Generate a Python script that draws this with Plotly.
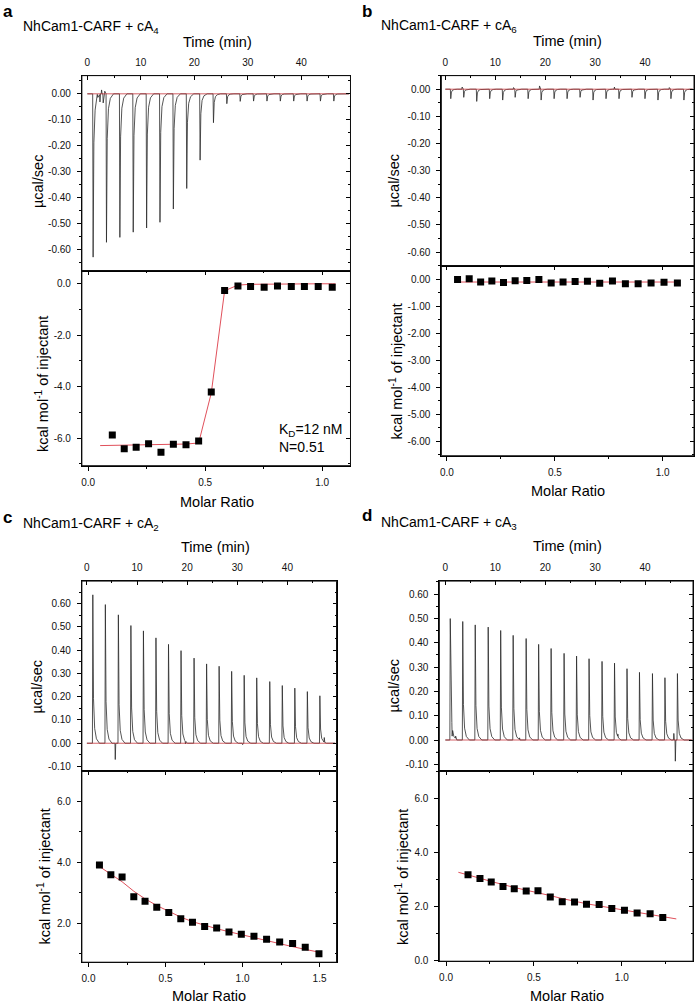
import numpy as np
import plotly.graph_objects as go

W, H = 697, 1008
FONT = "Liberation Sans, Arial, sans-serif"
INK = "#2a2a2a"
RED_BASE = "#c8383f"
RED_FIT = "#e0505b"

# ---------------- Panel a : NhCam1-CARF + cA4 ----------------
a_inj_time = [1.0, 3.5, 6.0, 8.5, 11.0, 13.5, 16.0, 18.5, 21.0, 23.5, 26.0, 28.5, 31.0, 33.5, 36.0, 38.5, 41.0, 43.5, 46.0]
a_inj_peak = [-0.628, -0.571, -0.552, -0.532, -0.516, -0.494, -0.443, -0.364, -0.255, -0.111, -0.038, -0.029,
              -0.028, -0.028, -0.028, -0.028, -0.028, -0.028, -0.028]
a_blip_time = [1.8, 2.3, 2.6, 2.9, 3.2]
a_blip_val = [0.015, -0.030, 0.015, -0.035, 0.010]
a_base_span = [0.0, 48.9]
a_ratio = [0.103, 0.154, 0.205, 0.258, 0.311, 0.364, 0.418, 0.472, 0.526, 0.583, 0.640, 0.694, 0.752, 0.809,
           0.868, 0.924, 0.983, 1.043]
a_heat = [-5.88, -6.41, -6.35, -6.22, -6.55, -6.24, -6.26, -6.11, -4.21, -0.27, -0.10, -0.12, -0.14, -0.10,
          -0.12, -0.12, -0.12, -0.14]
a_fit_ratio = [0.051, 0.103, 0.154, 0.205, 0.258, 0.311, 0.364, 0.418, 0.472, 0.526, 0.583, 0.640, 0.694,
               0.752, 0.809, 0.868, 0.924, 0.983, 1.043, 1.057]
a_fit_heat = [-6.29, -6.28, -6.28, -6.27, -6.27, -6.26, -6.25, -6.23, -6.19, -4.25, -0.28, -0.06, -0.03,
              -0.02, -0.02, -0.01, -0.01, -0.01, -0.01, -0.01]

# ---------------- Panel b : NhCam1-CARF + cA6 ----------------
b_inj_time = [1.0, 3.6, 6.2, 8.8, 11.4, 13.9, 16.5, 19.1, 21.7, 24.3, 26.9, 29.5, 32.1, 34.7, 37.3, 39.9, 42.5, 45.1, 47.7]
b_inj_peak = [-0.035, -0.030, -0.045, -0.035, -0.040, -0.030, -0.035, -0.040, -0.035, -0.035, -0.030, -0.040,
              -0.035, -0.035, -0.030, -0.035, -0.040, -0.035, -0.040]
b_blip_time = [3.3, 13.6, 18.8, 33.8, 44.8]
b_blip_val = [0.008, 0.006, 0.012, 0.008, 0.006]
b_base_span = [0.0, 49.6]
b_ratio = [0.049, 0.103, 0.156, 0.208, 0.262, 0.316, 0.370, 0.426, 0.483, 0.538, 0.594, 0.651, 0.708, 0.767,
           0.827, 0.886, 0.946, 1.006, 1.068]
b_heat = [-0.01, 0.02, -0.10, -0.06, -0.12, -0.05, -0.04, -0.01, -0.14, -0.10, -0.08, -0.07, -0.15, -0.06,
          -0.16, -0.16, -0.14, -0.11, -0.14]
b_fit_ratio = [0.049, 1.068]
b_fit_heat = [-0.10, -0.10]

# ---------------- Panel c : NhCam1-CARF + cA2 ----------------
c_inj_time = [1.1, 3.6, 6.2, 8.7, 11.2, 13.7, 16.2, 18.7, 21.3, 23.8, 26.3, 28.8, 31.3, 33.8, 36.4, 38.9, 41.4, 43.9, 46.4]
c_inj_peak = [0.638, 0.596, 0.552, 0.506, 0.483, 0.453, 0.425, 0.398, 0.366, 0.341, 0.331, 0.309, 0.292, 0.281,
              0.265, 0.248, 0.237, 0.222, 0.204]
c_blip_time = [5.6, 19.6, 31.0, 47.3]
c_blip_val = [-0.070, -0.012, -0.006, 0.020]
c_base_span = [0.0, 49.6]
c_ratio = [0.071, 0.145, 0.218, 0.294, 0.367, 0.443, 0.521, 0.599, 0.675, 0.754, 0.832, 0.912, 0.992, 1.074,
           1.156, 1.241, 1.325, 1.407, 1.496]
c_heat = [3.91, 3.59, 3.52, 2.87, 2.72, 2.52, 2.35, 2.15, 2.03, 1.89, 1.84, 1.71, 1.64, 1.57, 1.47, 1.38,
          1.33, 1.21, 1.00]
c_fit_ratio = c_ratio
c_fit_heat = [3.86, 3.62, 3.36, 3.05, 2.80, 2.58, 2.38, 2.20, 2.05, 1.93, 1.82, 1.72, 1.62, 1.52, 1.42, 1.32,
              1.23, 1.14, 1.05]

# ---------------- Panel d : NhCam1-CARF + cA3 ----------------
d_inj_time = [0.9, 3.4, 5.9, 8.5, 11.0, 13.5, 16.1, 18.6, 21.1, 23.7, 26.2, 28.7, 31.3, 33.8, 36.3, 38.8, 41.4, 43.9, 46.4]
d_inj_peak = [0.499, 0.487, 0.473, 0.464, 0.450, 0.430, 0.417, 0.393, 0.376, 0.356, 0.345, 0.334, 0.323, 0.316,
              0.293, 0.278, 0.273, 0.256, 0.273]
d_blip_time = [1.3, 2.0, 14.8, 34.5, 45.7, 46.0]
d_blip_val = [-0.033, 0.010, 0.008, 0.012, 0.027, -0.087]
d_base_span = [0.0, 49.5]
d_ratio = [0.125, 0.193, 0.257, 0.324, 0.388, 0.456, 0.523, 0.593, 0.661, 0.731, 0.799, 0.871, 0.943, 1.015,
           1.087, 1.161, 1.233]
d_heat = [3.18, 3.04, 2.91, 2.75, 2.66, 2.58, 2.59, 2.36, 2.18, 2.17, 2.09, 2.08, 1.93, 1.87, 1.77, 1.74, 1.60]
d_fit_ratio = [0.07, 0.125, 0.193, 0.257, 0.324, 0.388, 0.456, 0.523, 0.593, 0.661, 0.731, 0.799, 0.871, 0.943,
               1.015, 1.087, 1.161, 1.233, 1.31]
d_fit_heat = [3.27, 3.18, 3.05, 2.93, 2.81, 2.71, 2.61, 2.52, 2.41, 2.30, 2.20, 2.11, 2.03, 1.95, 1.87, 1.79,
              1.71, 1.63, 1.55]

# ---------------- tick labels ----------------
time_ticks = [0, 10, 20, 30, 40]
neg_power_ticks = [0.00, -0.10, -0.20, -0.30, -0.40, -0.50, -0.60]
pos_power_ticks = [-0.10, 0.00, 0.10, 0.20, 0.30, 0.40, 0.50, 0.60]
a_heat_ticks = [0.0, -2.0, -4.0, -6.0]
b_heat_ticks = [0.00, -1.00, -2.00, -3.00, -4.00, -5.00, -6.00]
c_heat_ticks = [2.0, 4.0, 6.0]
d_heat_ticks = [0.0, 2.0, 4.0, 6.0]
ratio_ticks = [0.0, 0.5, 1.0]
c_ratio_ticks = [0.0, 0.5, 1.0, 1.5]

# peak shape used to draw each injection in the thermograms
SPIKE_DT = [0.0, 0.08, 0.22, 0.45, 0.8, 1.4]
SPIKE_FR = [0.0, 1.0, 0.30, 0.10, 0.03, 0.0]
BLIP_DT = [0.0, 0.06, 0.16]
BLIP_FR = [0.0, 1.0, 0.0]


def thermogram(times, peaks, blip_t, blip_v, t_end):
    parts = []
    for t, h in zip(times, peaks):
        parts.append((t + np.array(SPIKE_DT), h * np.array(SPIKE_FR)))
    for t, h in zip(blip_t, blip_v):
        parts.append((t + np.array(BLIP_DT), h * np.array(BLIP_FR)))
    grid = np.unique(np.concatenate([np.array([0.0, t_end])] + [p[0] for p in parts]))
    grid = grid[grid <= t_end]
    y = np.zeros_like(grid)
    for tx, ty in parts:
        y += np.interp(grid, tx, ty, left=0.0, right=0.0)
    return grid, y


def minor_vals(lo, hi, step):
    lo, hi = min(lo, hi), max(lo, hi)
    k0 = int(np.ceil(lo / step - 1e-9))
    k1 = int(np.floor(hi / step + 1e-9))
    return [round(k * step, 6) for k in range(k0, k1 + 1)]


def px2x(px):
    return px / W


def px2y(py):
    return 1 - py / H


layout = dict(width=W, height=H, margin=dict(l=0, r=0, t=0, b=0), paper_bgcolor="white",
              plot_bgcolor="rgba(0,0,0,0)", showlegend=False, font=dict(family=FONT, size=10, color="black"))
annotations = []
shapes = []
traces = []
counter = [0]


def aname(kind, i):
    return f"{kind}axis" if i == 1 else f"{kind}axis{i}"


def aref(kind, i):
    return kind if i == 1 else f"{kind}{i}"


BASE = dict(showgrid=False, zeroline=False, tickcolor="black", tickwidth=1,
            ticklen=4, tickfont=dict(size=10, family=FONT, color="#111"))


def edge(x0, x1, y0, y1):
    shapes.append(dict(type="line", xref="paper", yref="paper", x0=px2x(x0), x1=px2x(x1),
                       y0=px2y(y0), y1=px2y(y1), line=dict(color="#111", width=1), layer="above"))


def add_axes(box, xr, yr, xt, xfmt, yt, yfmt, xstep, ystep, top):
    x0, x1, y0, y1 = box
    counter[0] += 1
    i = counter[0]
    xd = [px2x(x0), px2x(x1)]
    yd = [px2y(y1), px2y(y0)]
    xdir = "inside" if top else "outside"
    xa = dict(BASE, domain=xd, anchor=aref("y", i), range=xr, tickmode="array", tickvals=xt,
              ticktext=[xfmt.format(v) for v in xt], ticks=xdir, showline=True, linecolor="black",
              linewidth=1, mirror=True,
              side="top" if top else "bottom", ticklabelstandoff=5 if top else 3,
              minor=dict(ticks=xdir, ticklen=2, tickcolor="black", tickmode="array",
                         tickvals=minor_vals(xr[0], xr[1], xstep)))
    ya = dict(BASE, domain=yd, anchor=aref("x", i), range=yr, tickmode="array", tickvals=yt,
              ticktext=[yfmt.format(v) for v in yt], ticks="outside", showline=True, linecolor="black",
              linewidth=1, mirror=True,
              side="left", ticklabelstandoff=4,
              minor=dict(ticks="outside", ticklen=2, tickcolor="black", tickmode="array",
                         tickvals=minor_vals(yr[0], yr[1], ystep)))
    layout[aname("x", i)] = xa
    layout[aname("y", i)] = ya
    counter[0] += 1
    j = counter[0]
    layout[aname("y", j)] = dict(BASE, overlaying=aref("y", i), anchor=aref("x", i), side="right", range=yr,
                                 tickmode="array", tickvals=yt, showticklabels=False, ticks="inside",
                                 showline=False,
                                 minor=dict(ticks="inside", ticklen=2, tickcolor="black", tickmode="array",
                                            tickvals=minor_vals(yr[0], yr[1], ystep)))
    # empty trace so the mirrored (right-hand) tick axis is drawn
    traces.append(go.Scatter(x=[], y=[], xaxis=aref("x", i), yaxis=aref("y", j), hoverinfo="skip"))
    if not top:
        layout[aname("x", j)] = dict(BASE, overlaying=aref("x", i), anchor=aref("y", i), side="top", range=xr,
                                     tickmode="array", tickvals=xt, showticklabels=False, ticks="inside",
                                     showline=False,
                                     minor=dict(ticks="inside", ticklen=2, tickcolor="black", tickmode="array",
                                                tickvals=minor_vals(xr[0], xr[1], xstep)))
        traces.append(go.Scatter(x=[], y=[], xaxis=aref("x", j), yaxis=aref("y", i), hoverinfo="skip"))
    return aref("x", i), aref("y", i)


def text(x, y, s, size=14, bold=False, xanchor="center", angle=0):
    annotations.append(dict(xref="paper", yref="paper", x=px2x(x), y=px2y(y), text=f"<b>{s}</b>" if bold else s,
                            showarrow=False, xanchor=xanchor, yanchor="middle", textangle=angle,
                            font=dict(family=FONT, size=size, color="black")))


def panel(letter, header, lx, ly, box_top, box_bot, t_rng, p_rng, p_ticks, h_rng, h_ticks, h_fmt, h_step,
          r_rng, r_ticks, inj_t, inj_p, blip_t, blip_v, base_span, ratio, heat, fit_r, fit_h, lab):
    # top thermogram
    xa, ya = add_axes(box_top, t_rng, p_rng, time_ticks, "{:d}", p_ticks, "{:.2f}", 5, 0.05, True)
    tx, ty = thermogram(inj_t, inj_p, blip_t, blip_v, t_rng[1] - 0.3)
    traces.append(go.Scatter(x=tx, y=ty, mode="lines", line=dict(color=INK, width=0.8), xaxis=xa, yaxis=ya,
                             hoverinfo="skip"))
    traces.append(go.Scatter(x=base_span, y=[0.0, 0.0], mode="lines", line=dict(color=RED_BASE, width=0.8),
                             xaxis=xa, yaxis=ya, hoverinfo="skip"))
    # bottom isotherm
    xb, yb = add_axes(box_bot, r_rng, h_rng, r_ticks, "{:.1f}", h_ticks, h_fmt, 0.25, h_step, False)
    traces.append(go.Scatter(x=fit_r, y=fit_h, mode="lines", line=dict(color=RED_FIT, width=1),
                             xaxis=xb, yaxis=yb, hoverinfo="skip"))
    traces.append(go.Scatter(x=ratio, y=heat, mode="markers",
                             marker=dict(symbol="square", size=7, color="black", line=dict(width=0)),
                             xaxis=xb, yaxis=yb))
    # box edges around both plotting areas
    x0, x1, y0, ymid = box_top
    y2 = box_bot[3]
    edge(x0, x0, y0, y2)
    edge(x1, x1, y0, y2)
    edge(x0, x1, y0, y0)
    edge(x0, x1, ymid, ymid)
    edge(x0, x1, y2, y2)
    # texts
    text(lx, ly, letter, size=17, bold=True, xanchor="left")
    text(lab["hx"], lab["hy"], header, size=14, xanchor="left")
    text(lab["tx"], lab["ty"], "Time (min)", size=14.5)
    text(lab["px"], lab["py"], "µcal/sec", size=14.5, angle=-90)
    text(lab["kx"], lab["ky"], "kcal mol<sup>-1</sup> of injectant", size=14.5, angle=-90)
    text(lab["mx"], lab["my"], "Molar Ratio", size=14.5)


panel("a", "NhCam1-CARF + cA<sub>4</sub>", 0, 12, (81, 350, 76, 272), (81, 350, 272, 468),
      [-1.02, 49.2], [-0.680, 0.070], neg_power_ticks, [-7.07, 0.50], a_heat_ticks, "{:.1f}", 1.0,
      [-0.027, 1.121], ratio_ticks, a_inj_time, a_inj_peak, a_blip_time, a_blip_val, a_base_span,
      a_ratio, a_heat, a_fit_ratio, a_fit_heat,
      dict(hx=20, hy=27, tx=216.5, ty=42, px=37, py=182, kx=41, ky=386, mx=216, my=505))
panel("b", "NhCam1-CARF + cA<sub>6</sub>", 360, 11.5, (441, 694, 76, 267), (441, 694, 267, 458),
      [-0.8, 49.8], [-0.650, 0.050], neg_power_ticks, [-6.54, 0.506], b_heat_ticks, "{:.2f}", 0.5,
      [-0.026, 1.145], ratio_ticks, b_inj_time, b_inj_peak, b_blip_time, b_blip_val, b_base_span,
      b_ratio, b_heat, b_fit_ratio, b_fit_heat,
      dict(hx=379, hy=26, tx=567.5, ty=41, px=394, py=182, kx=396, ky=373, mx=567.5, my=493.5))
panel("c", "NhCam1-CARF + cA<sub>2</sub>", 0, 520, (81, 336, 584, 775), (81, 336, 775, 967),
      [-1.0, 49.8], [-0.120, 0.697], pos_power_ticks, [0.72, 6.99], c_heat_ticks, "{:.1f}", 1.0,
      [-0.043, 1.61], c_ratio_ticks, c_inj_time, c_inj_peak, c_blip_time, c_blip_val, c_base_span,
      c_ratio, c_heat, c_fit_ratio, c_fit_heat,
      dict(hx=20.5, hy=527, tx=215, ty=549.5, px=36, py=690, kx=43, ky=881, mx=208.5, my=1001))
panel("d", "NhCam1-CARF + cA<sub>3</sub>", 360, 518.5, (439, 693, 584, 775), (439, 693, 775, 966),
      [-1.2, 49.6], [-0.128, 0.653], pos_power_ticks, [-0.01, 7.0], d_heat_ticks, "{:.1f}", 1.0,
      [-0.038, 1.405], ratio_ticks, d_inj_time, d_inj_peak, d_blip_time, d_blip_val, d_base_span,
      d_ratio, d_heat, d_fit_ratio, d_fit_heat,
      dict(hx=379, hy=526, tx=567, ty=549, px=393.5, py=689, kx=401, ky=881, mx=566.5, my=1001))

text(276.5, 432.5, "K<sub>D</sub>=12 nM", size=14, xanchor="left")
text(276.5, 449.5, "N=0.51", size=14, xanchor="left")

layout["annotations"] = annotations
layout["shapes"] = shapes
fig = go.Figure(data=traces, layout=layout)
fig.write_html("out.html", config={"displayModeBar": False},
               post_script="document.body.style.margin='0px';document.body.style.overflow='hidden';")
